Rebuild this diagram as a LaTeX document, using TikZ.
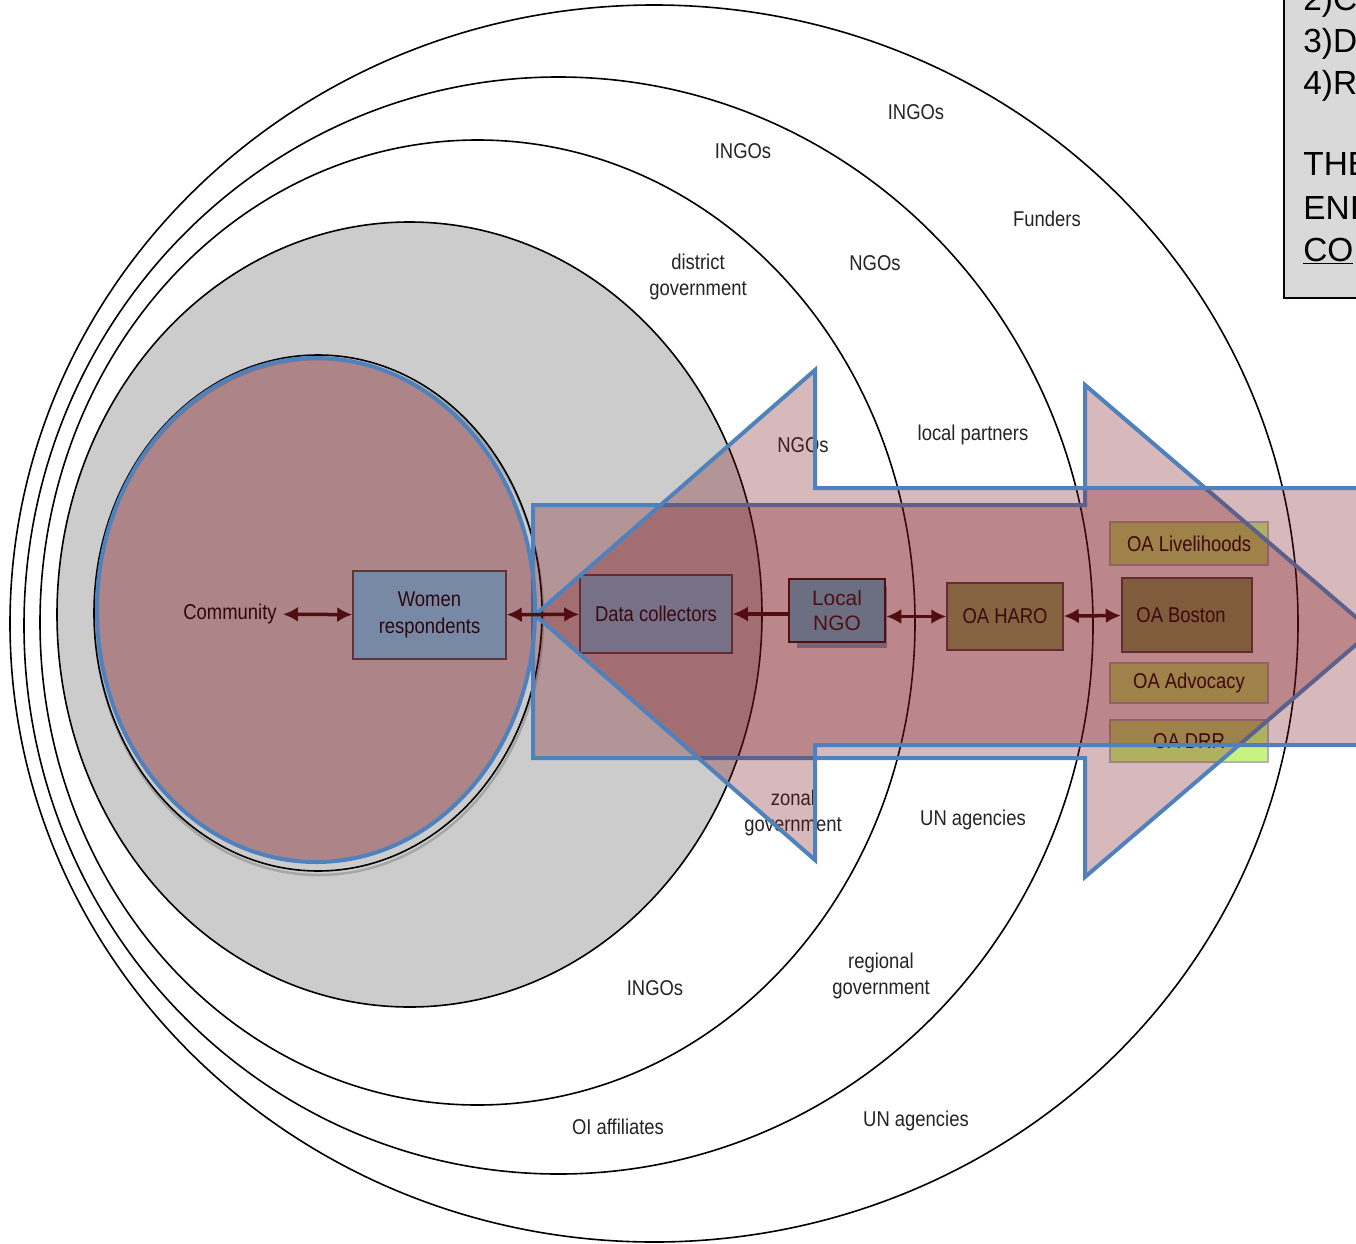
\documentclass[tikz,border=0pt]{standalone}
\usepackage{fontspec}
\usetikzlibrary{arrows.meta}
\setmainfont{Liberation Sans}
\newfontfamily\narrowfont[FakeStretch=0.86]{Liberation Sans}
\newcommand{\labsize}{\fontsize{12.2}{15.2}\selectfont}
\newlength{\du}
\setlength{\du}{0.2mm}

\begin{document}
\begin{tikzpicture}
\pgftransformxscale{1.000000}
\pgftransformyscale{-1.000000}
\definecolor{ringgray}{rgb}{0.800000, 0.800000, 0.800000}
\definecolor{labelcolor}{rgb}{0.140000, 0.140000, 0.140000}
\definecolor{tintcolor}{RGB}{122,17,24}
\definecolor{outlineblue}{RGB}{79,129,189}
\definecolor{boxblue}{RGB}{119,210,252}
\definecolor{boxgreen}{RGB}{148,184,106}
\definecolor{boxlime}{RGB}{198,244,126}
\definecolor{ngofill}{RGB}{108,110,130}
\definecolor{ngoshade}{RGB}{122,98,112}
\definecolor{linkcolor}{RGB}{80,14,16}
\definecolor{notegray}{RGB}{217,217,217}
\tikzset{
  ring/.style={draw=black, line width=1.6\du},
  ringlabel/.style={font=\narrowfont\labsize, text=labelcolor, align=center, inner sep=0pt},
  orgbox/.style={draw=black!70, line width=1.5\du, font=\narrowfont\labsize, text=black, align=center, inner sep=0pt},
  oabox/.style={orgbox, fill=boxlime, draw=black!30, minimum width=158\du},
  blockarrow/.style={fill=tintcolor, fill opacity=0.294, draw=outlineblue, line width=4\du, line join=miter},
  link/.style={draw=linkcolor, line width=3.5\du, >={Latex[length=3mm,width=3mm]}},
  noteline/.style={anchor=base west, inner sep=0pt, font=\fontsize{19}{23}\selectfont},
}
\useasboundingbox (0\du,0\du) rectangle (1356\du,1243\du);
\clip (0\du,0\du) rectangle (1356\du,1243\du);

% rings
\draw[ring, fill=white] (654\du,623.5\du) ellipse [x radius=644\du, y radius=618.5\du];
\draw[ring, fill=white] (558.5\du,625.5\du) ellipse [x radius=534.5\du, y radius=548.5\du];
\draw[ring, fill=white] (477.5\du,622.5\du) ellipse [x radius=437.5\du, y radius=482.5\du];
\draw[ring, fill=ringgray] (409.5\du,614.5\du) ellipse [x radius=352.5\du, y radius=392.5\du];
\draw[black!35, line width=2.5\du] (319\du,617\du) ellipse [x radius=224\du, y radius=258\du];
\draw[ring] (318\du,613\du) ellipse [x radius=224\du, y radius=258\du];

\node[ringlabel] (ingosouter) at (916\du,112\du) {INGOs};
\node[ringlabel] (ingosmid) at (743\du,151\du) {INGOs};
\node[ringlabel] (funders) at (1047\du,219\du) {Funders};
\node[ringlabel] (districtgov) at (698\du,277\du) {district\\government};
\node[ringlabel] (ngosmid) at (875\du,263\du) {NGOs};
\node[ringlabel] (ngosinner) at (803\du,445\du) {NGOs};
\node[ringlabel] (localpartners) at (973\du,435\du) {local partners};
\node[ringlabel] (zonalgov) at (793\du,813\du) {zonal\\government};
\node[ringlabel] (unagenciesin) at (973\du,820\du) {UN agencies};
\node[ringlabel] (regionalgov) at (881\du,976\du) {regional\\government};
\node[ringlabel] (ingoslow) at (655\du,988\du) {INGOs};
\node[ringlabel] (oiaffiliates) at (618\du,1127\du) {OI affiliates};
\node[ringlabel] (unagenciesout) at (916\du,1121\du) {UN agencies};

% organisations
\node[ringlabel, text=black, inner sep=6\du] (community) at (230\du,614\du) {Community};
\node[orgbox, fill=boxblue, minimum width=153\du, minimum height=88\du] (women) at (429.5\du,615\du) {Women\\respondents};
\node[orgbox, fill=boxblue, minimum width=152\du, minimum height=78\du] (datacollectors) at (656\du,614\du) {Data collectors};
\node[orgbox, fill=boxgreen, minimum width=116\du, minimum height=67\du] (oaharo) at (1005\du,616.5\du) {OA HARO};
\node[orgbox, fill=boxgreen!92!black, line width=2.5\du, minimum width=130\du, minimum height=74\du] (oaboston) at (1187\du,615\du) {OA Boston\hspace{12\du}};
\node[oabox, minimum height=43\du] (oalivelihoods) at (1189\du,543.5\du) {OA Livelihoods};
\node[oabox, minimum height=40\du] (oaadvocacy) at (1189\du,683\du) {OA Advocacy};
\node[oabox, minimum height=42\du] (oadrr) at (1189\du,741\du) {OA DRR};

% block arrows
\draw[blockarrow] (533\du,505\du) -- (1085\du,505\du) -- (1085\du,385\du) -- (1372\du,631\du) -- (1085\du,877\du) -- (1085\du,758\du) -- (533\du,758\du) -- cycle;
\draw[blockarrow] (535\du,615\du) -- (815\du,370\du) -- (815\du,488\du) -- (1420\du,488\du) -- (1420\du,745\du) -- (815\du,745\du) -- (815\du,860\du) -- cycle;
\draw[fill=tintcolor, fill opacity=0.378, draw=outlineblue, line width=4\du] (316\du,610\du) ellipse [x radius=219\du, y radius=252\du];

% local NGO on top
\fill[ngoshade] (797\du,586\du) rectangle (887\du,648\du);
\node[draw=linkcolor, line width=2.5\du, fill=ngofill, text=linkcolor, font=\fontsize{11.9}{14.7}\selectfont, align=center, minimum width=96\du, minimum height=63\du, inner sep=0pt] (localngo) at (837\du,610.5\du) {Local\\NGO};

\draw[link, <->] (community) -- (women);
\draw[link, <->] (women) -- (datacollectors);
\draw[link, ->] (datacollectors.east -| localngo.west) -- (datacollectors.east);
\draw[link, <->] (localngo.east |- oaharo.west) -- (oaharo.west);
\draw[link, <->] (oaharo) -- (oaboston);

% note box
\draw[fill=notegray, draw=black, line width=2\du] (1284\du,-20\du) rectangle (1420\du,298\du);
\node[noteline] (note1) at (1303\du,11\du) {2)C};
\node[noteline] (note2) at (1303\du,53\du) {3)D};
\node[noteline] (note3) at (1303\du,95\du) {4)R};
\node[noteline] (note4) at (1303\du,176\du) {THE};
\node[noteline] (note5) at (1303\du,219\du) {ENI};
\node[noteline] (note6) at (1303\du,261\du) {\underline{CO}};
\end{tikzpicture}
\end{document}
